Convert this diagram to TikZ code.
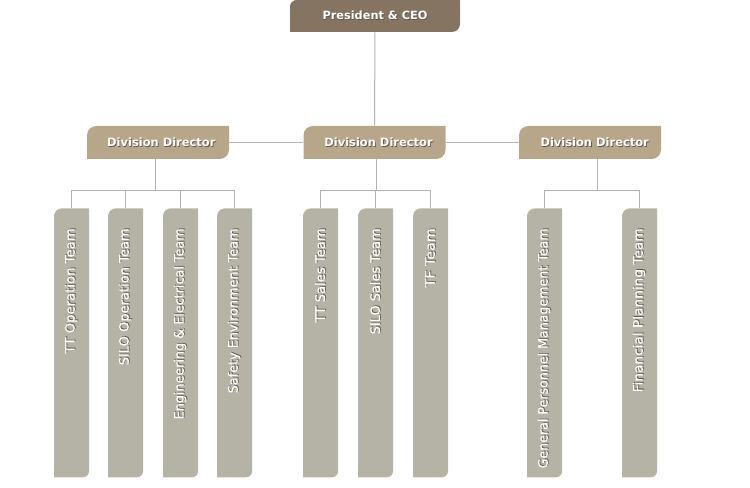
\documentclass[tikz,border=0pt]{standalone}
\usepackage{fontspec}
\setmainfont{DejaVu Sans}
\newfontfamily\barfont[FakeBold=0.8]{DejaVu Sans}
\usetikzlibrary{calc}
\definecolor{ceoc}{HTML}{857461}
\definecolor{divc}{HTML}{B8A68A}
\definecolor{barc}{HTML}{B5B3A6}
\definecolor{linec}{HTML}{B3B3B3}
\definecolor{shdc}{HTML}{5E574C}
\newcommand\shtext[1]{\makebox[0pt][l]{\raisebox{-0.6pt}{\kern0.6pt\textcolor{shdc}{#1}}}\textcolor{white}{#1}}
\newcommand\bartext[2]{\rotatebox{90}{\makebox[171.75pt][r]{\resizebox{#1}{\height}{\shtext{#2}}}}}
\tikzset{
  tlbr/.style n args={3}{path picture={
    \fill[#1] (path picture bounding box.south west)
      -- ([yshift=-#2]path picture bounding box.north west)
      arc[start angle=180,end angle=90,radius=#2]
      -- (path picture bounding box.north east)
      -- ([yshift=#3]path picture bounding box.south east)
      arc[start angle=0,end angle=-90,radius=#3] -- cycle;}},
  ceobox/.style={tlbr={ceoc}{5pt}{6pt}, minimum width=127.5pt, minimum height=24pt,
    inner sep=0pt, font=\bfseries\fontsize{8.5pt}{10pt}\selectfont},
  divbox/.style={tlbr={divc}{7pt}{7pt}, minimum width=106.5pt, minimum height=24.75pt,
    inner sep=0pt, font=\bfseries\fontsize{8.6pt}{10pt}\selectfont},
  teambar/.style={tlbr={barc}{6pt}{4.5pt}, minimum width=26.25pt, minimum height=201.75pt,
    inner sep=0pt, anchor=north, font=\barfont\fontsize{9.7pt}{11pt}\selectfont},
  conn/.style={draw=linec, line width=0.75pt}
}
\begin{document}
\begin{tikzpicture}[x=0.75pt,y=0.75pt]
\useasboundingbox (0,0) rectangle (750,-488);
% top
\node[ceobox] (ceo) at (375,-16) {\shtext{President \& CEO}};
% divisions
\node[divbox] (dL) at (158,-142.5) {\hspace*{5pt}\shtext{Division Director}};
\node[divbox] (dM) at (374.5,-142.5) {\hspace*{6pt}\shtext{Division Director}};
\node[divbox] (dR) at (590,-142.5) {\hspace*{7pt}\shtext{Division Director}};
% teams
\node[teambar] (t1) at (71.5,-208) {\bartext{93.75pt}{TT Operation Team}};
\node[teambar] (t2) at (125.5,-208) {\bartext{102.75pt}{SILO Operation Team}};
\node[teambar] (t3) at (180.5,-208) {\bartext{143.25pt}{Engineering \& Electrical Team}};
\node[teambar] (t4) at (234.5,-208) {\bartext{123.75pt}{Safety Environment Team}};
\node[teambar] (t5) at (320.5,-208) {\bartext{70.5pt}{TT Sales Team}};
\node[teambar] (t6) at (375.5,-208) {\bartext{79.5pt}{SILO Sales Team}};
\node[teambar] (t7) at (430.5,-208) {\bartext{44.25pt}{TF Team}};
\node[teambar] (t8) at (544.5,-208) {\bartext{180pt}{General Personnel Management Team}};
\node[teambar] (t9) at (639.5,-208) {\bartext{123pt}{Financial Planning Team}};
% buses
\coordinate (busL) at (155,-191);
\coordinate (busM) at (376,-191);
\coordinate (busR) at (597,-191);
% connectors
\draw[conn] (ceo.south) -- (dM.north);
\draw[conn] (dL.east) -- (dM.west);
\draw[conn] (dM.east) -- (dR.west);
\draw[conn] (busL |- dL.south) -- (busL);
\draw[conn] (busM |- dM.south) -- (busM);
\draw[conn] (busR |- dR.south) -- (busR);
\foreach \t in {t1,t2,t3,t4} \draw[conn] (\t.north) |- (busL);
\foreach \t in {t5,t6,t7} \draw[conn] (\t.north) |- (busM);
\foreach \t in {t8,t9} \draw[conn] (\t.north) |- (busR);
\end{tikzpicture}
\end{document}
